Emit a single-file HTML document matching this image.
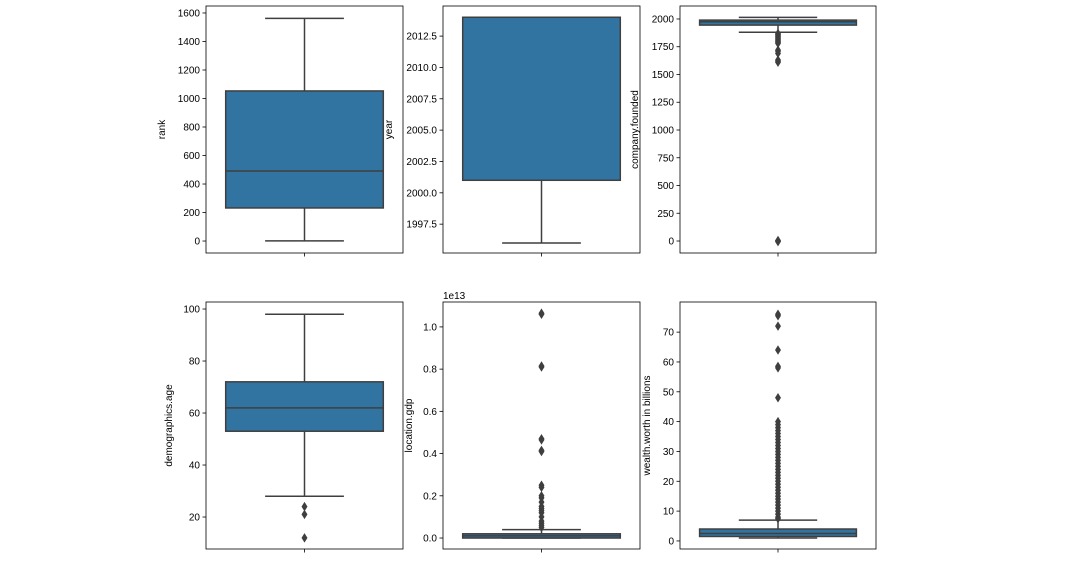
<!DOCTYPE html>
<html><head><meta charset="utf-8"><style>
body{margin:0;background:#fff;}
svg{font-family:"Liberation Sans","DejaVu Sans",sans-serif;}
</style></head><body>
<svg id="fig" width="1089" height="576" xmlns="http://www.w3.org/2000/svg"></svg>
<script>
const panelNames=["rank","year","company.founded","demographics.age","location.gdp","wealth.worth in billions"];
const boxStats=[
 [1,232,491,1053,1562],
 [1996,2001,2014,2014,2014],
 [1880,1945,1975,1990,2015],
 [28,53,62,72,98],
 [0,0,0.01,0.02,0.04],
 [1,1.5,2.5,4,7]
];
const outliers=[
 [],
 [],
 [1870,1860,1850,1840,1830,1820,1810,1800,1790,1780,1720,1710,1690,1630,1620,1610,0,5,-5],
 [24,21,12],
 [1.06,1.065,0.81,0.815,0.47,0.465,0.41,0.415,0.25,0.24,0.2,0.19,0.17,0.15,0.14,0.13,0.12,0.1,0.08,0.07,0.06,0.05],
 [76,75.5,72,64,58.5,58,48,40,39,38,37,36,35,34,33,32,31,30,29,28,27,26,25,24,23,22,21,20,19,18,17,16,15,14,13,12,11,10,9,8,7.5]
];
const yLims=[[-84,1649],[1995.2,2014.9],[-108,2117],[7.7,102.7],[-0.052,1.118],[-2.7,80.1]];
const tickVals=[
 [0,200,400,600,800,1000,1200,1400,1600],
 [1997.5,2000,2002.5,2005,2007.5,2010,2012.5],
 [0,250,500,750,1000,1250,1500,1750,2000],
 [20,40,60,80,100],
 [0,0.2,0.4,0.6,0.8,1.0],
 [0,10,20,30,40,50,60,70]
];
const tickLabels=[
 ["0","200","400","600","800","1000","1200","1400","1600"],
 ["1997.5","2000.0","2002.5","2005.0","2007.5","2010.0","2012.5"],
 ["0","250","500","750","1000","1250","1500","1750","2000"],
 ["20","40","60","80","100"],
 ["0.0","0.2","0.4","0.6","0.8","1.0"],
 ["0","10","20","30","40","50","60","70"]
];
const boxes=[[206,6,197,247],[443,6,197,247],[680,6,196,247],[206,302,197,247],[443,302,197,247],[680,302,196,247]];
const labelX=[165,392,638,172,412,650];
const svg=document.getElementById('fig');
const NS="http://www.w3.org/2000/svg";
function mk(tag,attrs,parent){const e=document.createElementNS(NS,tag);for(const k in attrs)e.setAttribute(k,attrs[k]);(parent||svg).appendChild(e);return e;}
const dark="#3f3f3f";
for(let i=0;i<6;i++){
 const [x0,y0,w,h]=boxes[i];
 const [lo,hi]=yLims[i];
 const ys=v=>y0+h-(v-lo)/(hi-lo)*h;
 const g=mk('g',{});
 
 
 const cx=x0+w/2, bw=w*0.8;
 const s=boxStats[i];
 const wl=mk('line',{x1:cx,x2:cx,y1:ys(s[0]),y2:ys(s[1]),stroke:dark,'stroke-width':1.5},g);
 
 const wu=mk('line',{x1:cx,x2:cx,y1:ys(s[3]),y2:ys(s[4]),stroke:dark,'stroke-width':1.5},g);
 
 for(const v of [s[0],s[4]]){
  const c=mk('line',{x1:cx-bw/4,x2:cx+bw/4,y1:ys(v),y2:ys(v),stroke:dark,'stroke-width':1.5},g);
  
 }
 const r=mk('rect',{x:cx-bw/2,y:ys(s[3]),width:bw,height:Math.max(ys(s[1])-ys(s[3]),0.5),fill:'#3274a1',stroke:dark,'stroke-width':1.5},g);
 
 const m=mk('line',{x1:cx-bw/2,x2:cx+bw/2,y1:ys(s[2]),y2:ys(s[2]),stroke:dark,'stroke-width':1.5},g);
 
 for(const v of outliers[i]){
  const y=ys(v);
  const d=mk('path',{d:`M${cx} ${y-4} L${cx+2.5} ${y} L${cx} ${y+4} L${cx-2.5} ${y} Z`,fill:dark,stroke:dark,'stroke-width':0.8},g);
  
 }
 const f=mk('rect',{x:x0,y:y0,width:w,height:h,fill:'none',stroke:'#000','stroke-width':0.8},g);
 
 for(let t=0;t<tickVals[i].length;t++){
  const y=ys(tickVals[i][t]);
  const tk=mk('line',{x1:x0-3.5,x2:x0,y1:y,y2:y,stroke:'#000','stroke-width':0.8},g);
  
  const tl=mk('text',{x:x0-6,y:y+3.5,'text-anchor':'end','font-size':10,fill:'#000'},g);
  tl.textContent=tickLabels[i][t];
  
 }
 const xt=mk('line',{x1:cx,x2:cx,y1:y0+h,y2:y0+h+3.5,stroke:'#000','stroke-width':0.8},g);
 
 const yl=mk('text',{x:labelX[i],y:y0+h/2,'text-anchor':'middle','font-size':10,fill:'#000',transform:`rotate(-90 ${labelX[i]} ${y0+h/2})`},g);
 yl.textContent=panelNames[i];
 
 if(i===4){
  const off=mk('text',{x:443,y:299,'font-size':10,fill:'#000'},g);
  off.textContent='1e13';
  
 }
}
</script>
</body></html>
